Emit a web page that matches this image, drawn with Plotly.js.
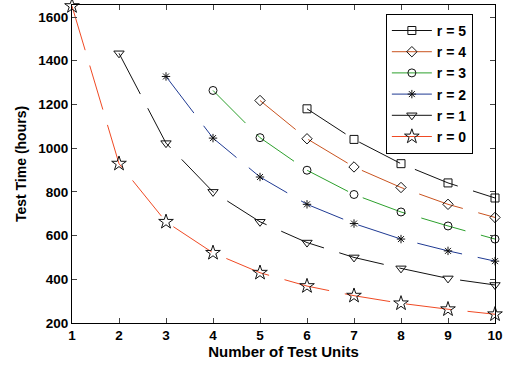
<!DOCTYPE html>
<html><head><meta charset="utf-8">
<script src="https://cdn.plot.ly/plotly-3.0.1.min.js"></script>
<style>html,body{margin:0;padding:0;background:#fff}#chart{width:505px;height:365px}</style>
</head><body><div id="chart"></div>
<script>
const x0 = [1,2,3,4,5,6,7,8,9,10];
const y0 = [1650,929,663,521,430,369,325,290,263,240];
const x1 = [2,3,4,5,6,7,8,9,10];
const y1 = [1434,1023,800,663,568,500,450,404,374];
const x2 = [3,4,5,6,7,8,9,10];
const y2 = [1328,1046,868,743,655,584,530,483];
const x3 = [4,5,6,7,8,9,10];
const y3 = [1264,1048,899,788,708,644,584];
const x4 = [5,6,7,8,9,10];
const y4 = [1218,1043,914,820,743,683];
const x5 = [6,7,8,9,10];
const y5 = [1180,1040,929,841,772];
const names = ['r = 0','r = 1','r = 2','r = 3','r = 4','r = 5'];
const xTicks = [1,2,3,4,5,6,7,8,9,10];
const yTicks = [200,400,600,800,1000,1200,1400,1600];

const xs=[x0,x1,x2,x3,x4,x5], ys=[y0,y1,y2,y3,y4,y5];
const colors=['#f04a24','#111111','#1f3a93','#2ca02c','#c9531f','#111111'];
const symbols=['star-open','triangle-down-open','asterisk-open','circle-open','diamond-open','square-open'];
const sizes=[11,9,7,8,8,8];
const traces=[];
for(let i=0;i<6;i++){
  traces.push({x:xs[i],y:ys[i],name:names[i],type:'scatter',mode:'lines+markers',cliponaxis:false,
    line:{color:colors[i],width:1,dash:'46px,16px'},
    marker:{symbol:symbols[i],size:sizes[i],color:'#111',line:{color:'#111',width:1}}});
}
const bold={family:'Liberation Sans, Arial, sans-serif',size:13.5,color:'#000',weight:'bold'};
const layout={
  width:505,height:365,margin:{l:72,r:10,t:5,b:42},
  paper_bgcolor:'#fff',plot_bgcolor:'#fff',showlegend:true,
  xaxis:{range:[1,10],tickvals:xTicks,ticks:'inside',ticklen:5,mirror:'ticks',showline:true,linecolor:'#000',linewidth:1,
    showgrid:false,zeroline:false,tickfont:bold,title:{text:'Number of Test Units',font:Object.assign({},bold,{size:15}),standoff:2}},
  yaxis:{range:[200,1655],tickvals:yTicks,ticks:'inside',ticklen:5,mirror:'ticks',showline:true,linecolor:'#000',linewidth:1,
    showgrid:false,zeroline:false,tickfont:bold,title:{text:'Test Time (hours)',font:Object.assign({},bold,{size:14}),standoff:8}},
  legend:{x:0.742,xanchor:'left',y:0.972,yanchor:'top',traceorder:'reversed',bgcolor:'#fff',bordercolor:'#000',borderwidth:1,
    font:Object.assign({},bold,{size:14}),tracegroupgap:0,itemwidth:40}
};
Plotly.newPlot('chart',traces,layout,{displayModeBar:false,staticPlot:true});
</script></body></html>
